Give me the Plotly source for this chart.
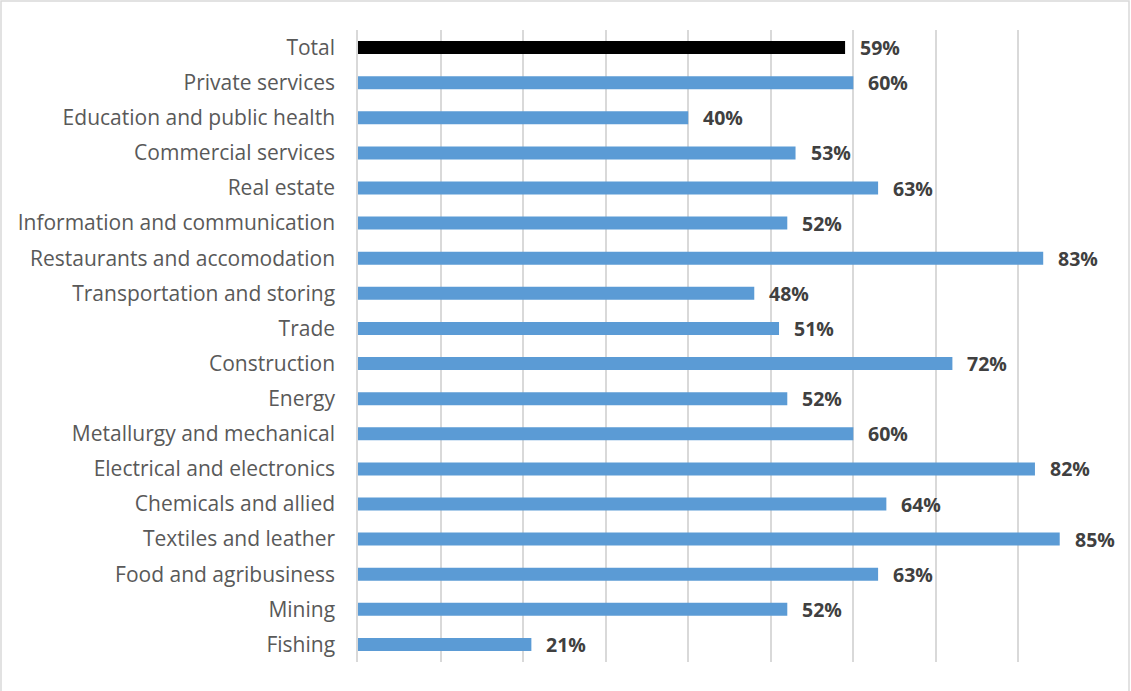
import plotly.graph_objects as go

# Sectors listed bottom-to-top as they appear on the axis
sectors = [
    "Fishing", "Mining", "Food and agribusiness", "Textiles and leather",
    "Chemicals and allied", "Electrical and electronics",
    "Metallurgy and mechanical", "Energy", "Construction", "Trade",
    "Transportation and storing", "Restaurants and accomodation",
    "Information and communication", "Real estate", "Commercial services",
    "Education and public health", "Private services", "Total",
]
shares = [0.21, 0.52, 0.63, 0.85, 0.64, 0.82, 0.60, 0.52, 0.72, 0.51,
          0.48, 0.83, 0.52, 0.63, 0.53, 0.40, 0.60, 0.59]

BLUE = "#5B9BD5"
bar_colors = ["#000000" if s == "Total" else BLUE for s in sectors]

W, H = 1131, 691
ml, mr, mt, mb = 358, 30, 30, 29
pw, ph = W - ml - mr, H - mt - mb

fig = go.Figure(go.Bar(
    x=shares, y=sectors, orientation="h",
    marker=dict(color=bar_colors, line=dict(width=0)),
    width=0.37,
    hoverinfo="x+y",
))

# Bold value labels just past the end of each bar
for s, v in zip(sectors, shares):
    fig.add_annotation(
        x=v, y=s, text=f"<b>{round(v * 100)}%</b>",
        xanchor="left", yanchor="middle", xshift=13, showarrow=False,
        font=dict(family="Open Sans, sans-serif", size=19.5, color="#404040"),
    )

# Light frame around the whole chart
fig.add_shape(
    type="rect", xref="paper", yref="paper",
    x0=(1 - ml) / pw, x1=(W - 2 - ml) / pw,
    y0=(mb - (H - 2)) / ph, y1=(H - 1 - mb) / ph,
    line=dict(color="#d9d9d9", width=1.5), fillcolor="rgba(0,0,0,0)",
    layer="below",
)

fig.update_layout(
    width=W, height=H,
    margin=dict(l=ml, r=mr, t=mt, b=mb, pad=0),
    plot_bgcolor="white", paper_bgcolor="white",
    showlegend=False,
    xaxis=dict(
        range=[0, 0.9], dtick=0.1, showticklabels=False,
        showgrid=True, gridcolor="#d9d9d9", gridwidth=1.5,
        zeroline=False, showline=False, fixedrange=True,
    ),
    yaxis=dict(
        categoryorder="array", categoryarray=sectors,
        range=[-0.5, len(sectors) - 0.5],
        showline=True, linecolor="#d9d9d9", linewidth=1.5,
        ticks="", ticklabelstandoff=17,
        tickfont=dict(family="Open Sans, sans-serif", size=21, color="#595959"),
        showgrid=False, fixedrange=True,
    ),
)

fig.write_html("out.html")
